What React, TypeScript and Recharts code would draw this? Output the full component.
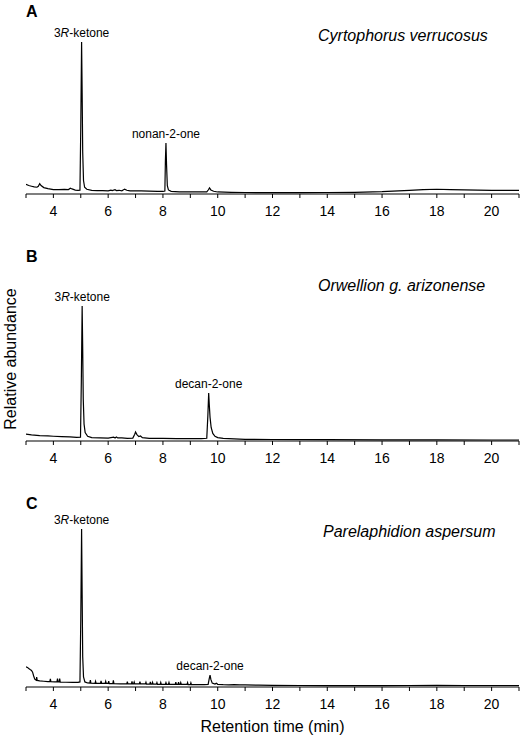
import React from "react";
import { LineChart, Line, XAxis, YAxis, ReferenceDot } from "recharts";

// retention time (min), relative abundance (% of panel height)
const traceA: [number, number][] = [
  [3.0, 5.7], [3.1, 5.0], [3.2, 4.6], [3.3, 4.2], [3.4, 4.0], [3.45, 4.6], [3.5, 6.1], [3.55, 5.0], [3.65, 3.8],
  [3.8, 3.2], [4.0, 2.6], [4.2, 2.6], [4.4, 2.7], [4.55, 2.6], [4.62, 3.4], [4.68, 3.0], [4.8, 2.3], [4.9, 2.1],
  [4.97, 2.2], [5.0, 40], [5.03, 89.9], [5.05, 60], [5.07, 25], [5.1, 8], [5.14, 4.0], [5.22, 2.8], [5.4, 2.2],
  [5.6, 2.0], [5.8, 2.0], [6.0, 1.9], [6.1, 2.3], [6.15, 2.0], [6.25, 2.5], [6.3, 2.0], [6.4, 2.2], [6.5, 1.9],
  [6.6, 2.9], [6.68, 2.2], [6.8, 1.8], [7.0, 1.9], [7.2, 1.8], [7.5, 1.7], [7.8, 1.6], [8.0, 1.5], [8.07, 1.8],
  [8.09, 20], [8.11, 30.2], [8.13, 18], [8.16, 5], [8.2, 2.4], [8.3, 1.6], [8.6, 1.3], [9.0, 1.2], [9.4, 1.2],
  [9.6, 1.3], [9.66, 2.5], [9.7, 3.6], [9.75, 2.4], [9.85, 1.6], [10.0, 1.2], [10.5, 1.0], [11, 0.9], [12, 0.8],
  [13, 0.8], [14, 0.9], [15, 1.0], [16, 1.4], [17, 2.2], [17.5, 2.6], [18, 2.8], [18.5, 2.6], [19, 2.4], [20, 2.2],
  [21, 2.2],
];

const traceB: [number, number][] = [
  [3.0, 4.1], [3.2, 3.6], [3.5, 3.2], [3.8, 3.0], [4.0, 2.8], [4.3, 2.6], [4.6, 2.4], [4.85, 2.2], [4.99, 2.3],
  [5.02, 35], [5.05, 79.9], [5.07, 55], [5.09, 25], [5.12, 10], [5.16, 5], [5.25, 2.8], [5.4, 2.0], [5.7, 1.8],
  [6.0, 1.7], [6.2, 2.3], [6.25, 1.8], [6.3, 2.4], [6.35, 1.8], [6.5, 1.8], [6.7, 1.6], [6.9, 1.7], [6.97, 4.0],
  [7.0, 5.3], [7.05, 3.8], [7.12, 2.6], [7.18, 3.0], [7.25, 2.0], [7.5, 1.6], [8.0, 1.5], [8.5, 1.4], [9.0, 1.4],
  [9.4, 1.4], [9.6, 1.6], [9.64, 15], [9.67, 28.4], [9.69, 22], [9.72, 14], [9.76, 8], [9.82, 4.5], [9.9, 2.8],
  [10.0, 2.0], [10.2, 1.5], [10.6, 1.2], [11, 1.0], [12, 0.9], [14, 0.8], [16, 0.7], [18, 0.7], [20, 0.6], [21, 0.6],
];

const traceC: [number, number][] = [
  [3.0, 12.0], [3.05, 11.6], [3.1, 10.9], [3.15, 10.3], [3.2, 9.8], [3.24, 8.8], [3.28, 6.5], [3.32, 4.6],
  [3.37, 4.0], [3.39, 5.8], [3.41, 3.9], [3.5, 3.6], [3.65, 3.4], [3.8, 3.2], [3.87, 3.2], [3.89, 4.8], [3.91, 3.1],
  [4.05, 3.0], [4.13, 3.0], [4.15, 4.9], [4.17, 3.0], [4.21, 3.0], [4.23, 5.0], [4.25, 2.9], [4.45, 2.8],
  [4.7, 2.7], [4.9, 2.7], [4.97, 3.0], [5.0, 40], [5.03, 93.5], [5.05, 55], [5.07, 18], [5.1, 6], [5.15, 3.0],
  [5.25, 2.4], [5.33, 2.3], [5.35, 4.1], [5.37, 2.3], [5.52, 2.2], [5.54, 3.4], [5.56, 2.2], [5.72, 2.2],
  [5.74, 3.6], [5.76, 2.1], [5.89, 2.1], [5.91, 3.3], [5.93, 2.1], [6.0, 2.1], [6.02, 3.4], [6.04, 2.0],
  [6.17, 2.0], [6.19, 3.9], [6.21, 2.0], [6.45, 1.9], [6.68, 1.9], [6.7, 3.2], [6.72, 1.9], [6.85, 1.9],
  [6.87, 3.3], [6.89, 1.9], [6.93, 1.9], [6.95, 2.9], [6.97, 1.8], [7.14, 1.8], [7.16, 3.2], [7.18, 1.8],
  [7.36, 1.8], [7.38, 2.8], [7.4, 1.7], [7.52, 1.7], [7.54, 3.0], [7.56, 1.7], [7.6, 1.7], [7.62, 2.8],
  [7.64, 1.7], [7.76, 1.7], [7.78, 2.6], [7.8, 1.6], [7.9, 1.6], [7.92, 2.7], [7.94, 1.6], [8.09, 1.6],
  [8.11, 2.6], [8.13, 1.6], [8.2, 1.6], [8.22, 2.7], [8.24, 1.5], [8.45, 1.5], [8.47, 2.9], [8.49, 1.5],
  [8.55, 1.5], [8.57, 2.8], [8.59, 1.5], [8.63, 1.5], [8.65, 2.6], [8.67, 1.5], [8.88, 1.5], [8.9, 2.6],
  [8.92, 1.4], [9.0, 1.4], [9.02, 2.5], [9.04, 1.4], [9.3, 1.4], [9.5, 1.4], [9.65, 1.5], [9.69, 5.0],
  [9.72, 7.0], [9.75, 4.5], [9.8, 2.3], [9.9, 1.7], [9.95, 2.2], [10.0, 1.6], [10.2, 1.4], [10.4, 1.3],
  [10.6, 1.4], [10.8, 1.2], [11.0, 1.2], [11.5, 1.1], [12, 1.0], [13, 0.9], [14, 0.8], [15, 0.8], [16, 0.8],
  [17, 0.9], [18, 1.0], [19, 0.9], [20, 0.9], [21, 0.9],
];

const peaksA = [
  { t: 5.03, v: 89.9, name: "3R-ketone" },
  { t: 8.11, v: 30.2, name: "nonan-2-one" },
];
const peaksB = [
  { t: 5.05, v: 79.9, name: "3R-ketone" },
  { t: 9.67, v: 28.4, name: "decan-2-one" },
];
const peaksC = [
  { t: 5.03, v: 93.5, name: "3R-ketone" },
  { t: 9.72, v: 7.0, name: "decan-2-one" },
];

const xTicks = [3, 4, 5, 6, 7, 8, 9, 10, 11, 12, 13, 14, 15, 16, 17, 18, 19, 20, 21];

const panels = [
  { letter: "A", species: "Cyrtophorus verrucosus", trace: traceA, peaks: peaksA },
  { letter: "B", species: "Orwellion g. arizonense", trace: traceB, peaks: peaksB },
  { letter: "C", species: "Parelaphidion aspersum", trace: traceC, peaks: peaksC },
];

const panelTops = [0, 247, 493];
const speciesPos = [
  { x: 318, y: 41 },
  { x: 318, y: 291 },
  { x: 323, y: 537 },
];
const letterY = [17, 262, 509];

function PeakLabel(props: any) {
  const vb = props.viewBox || {};
  const x = (vb.x ?? 0) + (vb.width ?? 0) / 2;
  const y = (vb.y ?? 0) - 5;
  const m = /^(\d)([A-Z])(-.*)$/.exec(props.name);
  return (
    <text x={x} y={y} textAnchor="middle" fontSize={12} fill="#000">
      {m ? (
        <>
          <tspan>{m[1]}</tspan>
          <tspan fontStyle="italic">{m[2]}</tspan>
          <tspan>{m[3]}</tspan>
        </>
      ) : (
        props.name
      )}
    </text>
  );
}

function Panel({ trace, peaks, top }: { trace: [number, number][]; peaks: { t: number; v: number; name: string }[]; top: number }) {
  const data = trace.map(([t, v]) => ({ t, v }));
  return (
    <div style={{ position: "absolute", left: 0, top }}>
      <LineChart width={521} height={224} data={data} margin={{ top: 25, right: 2, bottom: 0, left: 26 }}>
        <XAxis
          dataKey="t"
          type="number"
          domain={[3, 21]}
          ticks={xTicks}
          interval={0}
          allowDataOverflow
          tickFormatter={(v: number) => (v % 2 === 0 ? String(v) : "")}
          tick={{ fill: "#000", fontSize: 14 }}
          tickLine={{ stroke: "#000" }}
          axisLine={{ stroke: "#000", strokeWidth: 1.2 }}
          tickSize={4}
          tickMargin={8}
          height={30}
        />
        <YAxis type="number" domain={[0, 100]} width={0} tick={false} tickLine={false} axisLine={{ stroke: "#000", strokeWidth: 1.2 }} />
        <Line type="linear" dataKey="v" stroke="#000" strokeWidth={1.2} dot={false} activeDot={false} isAnimationActive={false} />
        {peaks.map((p) => (
          <ReferenceDot
            key={p.name}
            x={p.t}
            y={p.v}
            r={0}
            fill="none"
            stroke="none"
            label={(lp: any) => <PeakLabel {...lp} name={p.name} />}
          />
        ))}
      </LineChart>
    </div>
  );
}

export default function App() {
  return (
    <div
      style={{
        position: "absolute",
        left: 0,
        top: 0,
        width: 521,
        height: 737,
        background: "#fff",
        fontFamily: "'Liberation Sans', Arial, sans-serif",
      }}
    >
      {panels.map((p, i) => (
        <Panel key={p.letter} trace={p.trace} peaks={p.peaks} top={panelTops[i]} />
      ))}
      <svg width={521} height={737} style={{ position: "absolute", left: 0, top: 0, pointerEvents: "none" }}>
        {panels.map((p, i) => (
          <g key={p.letter}>
            <text x={26} y={letterY[i]} fontSize={16} fontWeight="bold" fill="#000">
              {p.letter}
            </text>
            <text x={speciesPos[i].x} y={speciesPos[i].y} fontSize={16} fontStyle="italic" fill="#000">
              {p.species}
            </text>
          </g>
        ))}
        <text x={272.5} y={731.5} fontSize={16} textAnchor="middle" fill="#000">
          Retention time (min)
        </text>
        <text x={16} y={359} fontSize={16} textAnchor="middle" fill="#000" transform="rotate(-90 16 359)">
          Relative abundance
        </text>
      </svg>
    </div>
  );
}
